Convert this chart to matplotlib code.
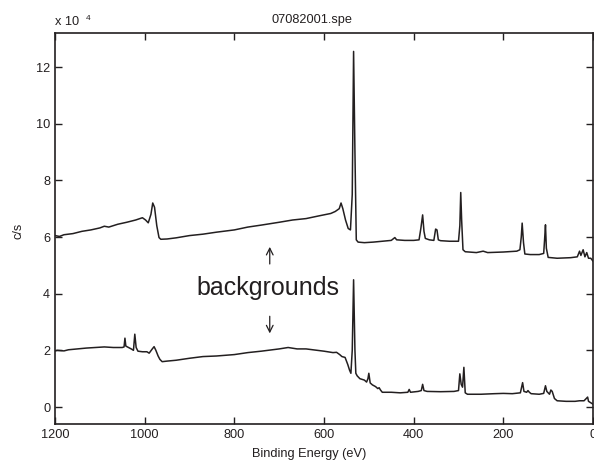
import matplotlib
matplotlib.use('Agg')
import matplotlib.pyplot as plt
import numpy as np

plt.rcParams['font.family'] = ['Liberation Sans', 'DejaVu Sans']

# upper spectrum (binding energy in eV, counts in units of 1e4 c/s)
upper_ev = [1200, 1190, 1180, 1160, 1140, 1120, 1100, 1090, 1080, 1060, 1040, 1020, 1005, 998, 992,
            986, 982, 978, 973, 968, 964, 950, 930, 900, 870, 840, 800, 770, 740, 700, 670, 640,
            610, 585, 575, 566, 562, 558, 552, 546, 541, 537, 534, 531, 528, 524, 510, 490, 470,
            450, 442, 438, 420, 400, 388, 384, 380, 377, 374, 365, 355, 351, 348, 345, 340, 320,
            300, 297, 295, 293, 290, 285, 260, 245, 235, 200, 170, 163, 160, 158, 155, 152, 140,
            120, 110, 108, 106, 104, 100, 80, 50, 35, 30, 27, 22, 18, 14, 10, 5, 0]
upper_cts = [6.05, 6.02, 6.08, 6.12, 6.2, 6.25, 6.32, 6.38, 6.35, 6.45, 6.52, 6.6, 6.68, 6.6, 6.5,
             6.8, 7.2, 7.05, 6.4, 5.98, 5.92, 5.93, 5.97, 6.05, 6.1, 6.17, 6.25, 6.35, 6.42, 6.52,
             6.6, 6.65, 6.75, 6.83, 6.9, 7.0, 7.2, 7.0, 6.6, 6.3, 6.25, 7.5, 12.55, 9.0, 5.9, 5.82,
             5.8, 5.82, 5.85, 5.88, 5.98, 5.9, 5.88, 5.88, 5.9, 6.3, 6.78, 6.2, 5.95, 5.9, 5.88, 6.28,
             6.25, 5.9, 5.87, 5.85, 5.85, 6.4, 7.57, 6.6, 5.55, 5.48, 5.45, 5.5, 5.45, 5.47, 5.5,
             5.55, 6.0, 6.49, 5.8, 5.4, 5.38, 5.38, 5.42, 5.9, 6.43, 5.6, 5.28, 5.25, 5.27, 5.3,
             5.5, 5.35, 5.55, 5.3, 5.45, 5.25, 5.25, 5.15]

# lower spectrum
lower_ev = [1200, 1195, 1180, 1170, 1150, 1130, 1110, 1090, 1070, 1050, 1046, 1044, 1042, 1036, 1030,
            1025, 1022, 1019, 1015, 1005, 995, 990, 983, 979, 975, 970, 966, 961, 950, 930, 900,
            870, 840, 800, 770, 740, 700, 680, 660, 640, 620, 600, 580, 572, 565, 560, 553, 547,
            543, 540, 537, 534, 531, 529, 526, 520, 510, 505, 502, 500, 497, 492, 485, 480, 477,
            474, 470, 450, 430, 413, 410, 407, 390, 383, 380, 377, 370, 340, 310, 300, 297, 294,
            291, 288, 285, 280, 250, 220, 200, 180, 162, 157, 154, 148, 145, 142, 138, 120, 110,
            106, 103, 97, 94, 91, 86, 80, 60, 40, 30, 20, 15, 12, 10, 5, 0]
lower_cts = [1.98, 2.0, 1.98, 2.02, 2.05, 2.08, 2.1, 2.12, 2.1, 2.1, 2.12, 2.43, 2.15, 2.1, 2.05,
             2.0, 2.57, 2.1, 1.97, 1.95, 1.95, 1.9, 2.05, 2.13, 2.0, 1.8, 1.68, 1.6, 1.62, 1.65,
             1.72, 1.78, 1.8, 1.85, 1.92, 1.97, 2.05, 2.1, 2.05, 2.05, 2.01, 1.97, 1.92, 1.93, 1.85,
             1.78, 1.75, 1.5, 1.3, 1.19, 2.0, 4.49, 2.0, 1.19, 1.1, 1.0, 0.95, 0.88, 1.0, 1.19, 0.85,
             0.78, 0.72, 0.65, 0.68, 0.6, 0.52, 0.52, 0.5, 0.52, 0.62, 0.52, 0.55, 0.58, 0.8, 0.58,
             0.55, 0.54, 0.55, 0.58, 1.17, 0.8, 0.7, 1.4, 0.5, 0.45, 0.45, 0.47, 0.48, 0.47, 0.5,
             0.86, 0.55, 0.52, 0.58, 0.52, 0.47, 0.45, 0.48, 0.75, 0.55, 0.45, 0.6, 0.55, 0.3, 0.22,
             0.2, 0.2, 0.22, 0.22, 0.3, 0.35, 0.2, 0.15, 0.1]

x_ticks = [1200, 1000, 800, 600, 400, 200, 0]
y_ticks = [0, 2, 4, 6, 8, 10, 12]

ink = '#231f20'
fs = 9.2

fig = plt.figure(figsize=(5.94, 4.62), dpi=100)
ax = fig.add_axes([55 / 594, 38 / 462, 538 / 594, 391 / 462])

ax.plot(upper_ev, upper_cts, color=ink, lw=1.1)
ax.plot(lower_ev, lower_cts, color=ink, lw=1.1)

ax.set_xlim(1200, 0)
ax.set_ylim(-0.6, 13.2)
ax.set_xticks(x_ticks)
ax.set_yticks(y_ticks)
ax.tick_params(direction='in', top=True, right=True, length=5, width=1,
               labelsize=fs, colors=ink)
for s in ax.spines.values():
    s.set_linewidth(1.2)
    s.set_color(ink)

# annotation
ax.text(725, 4.2, 'backgrounds', fontsize=18, color=ink, ha='center', va='center')
ax.annotate('', xy=(721, 5.75), xytext=(721, 4.95),
            arrowprops=dict(arrowstyle='->', color=ink, lw=0.9, mutation_scale=12))
ax.annotate('', xy=(721, 2.5), xytext=(721, 3.3),
            arrowprops=dict(arrowstyle='->', color=ink, lw=0.9, mutation_scale=12))

fig.text(312 / 594, 1 - 20 / 462, '07082001.spe', ha='center', va='center', fontsize=fs, color=ink)
fig.text(55 / 594, 1 - 22 / 462, 'x 10', ha='left', va='center', fontsize=fs, color=ink)
fig.text(86 / 594, 1 - 18 / 462, '4', ha='left', va='center', fontsize=6, color=ink)
fig.text(18 / 594, 1 - 231 / 462, 'c/s', ha='center', va='center', rotation=90,
         fontsize=fs, color=ink)
fig.text(309 / 594, 1 - 454 / 462, 'Binding Energy (eV)', ha='center', va='center',
         fontsize=fs, color=ink)

fig.savefig('out.png', dpi=100)
